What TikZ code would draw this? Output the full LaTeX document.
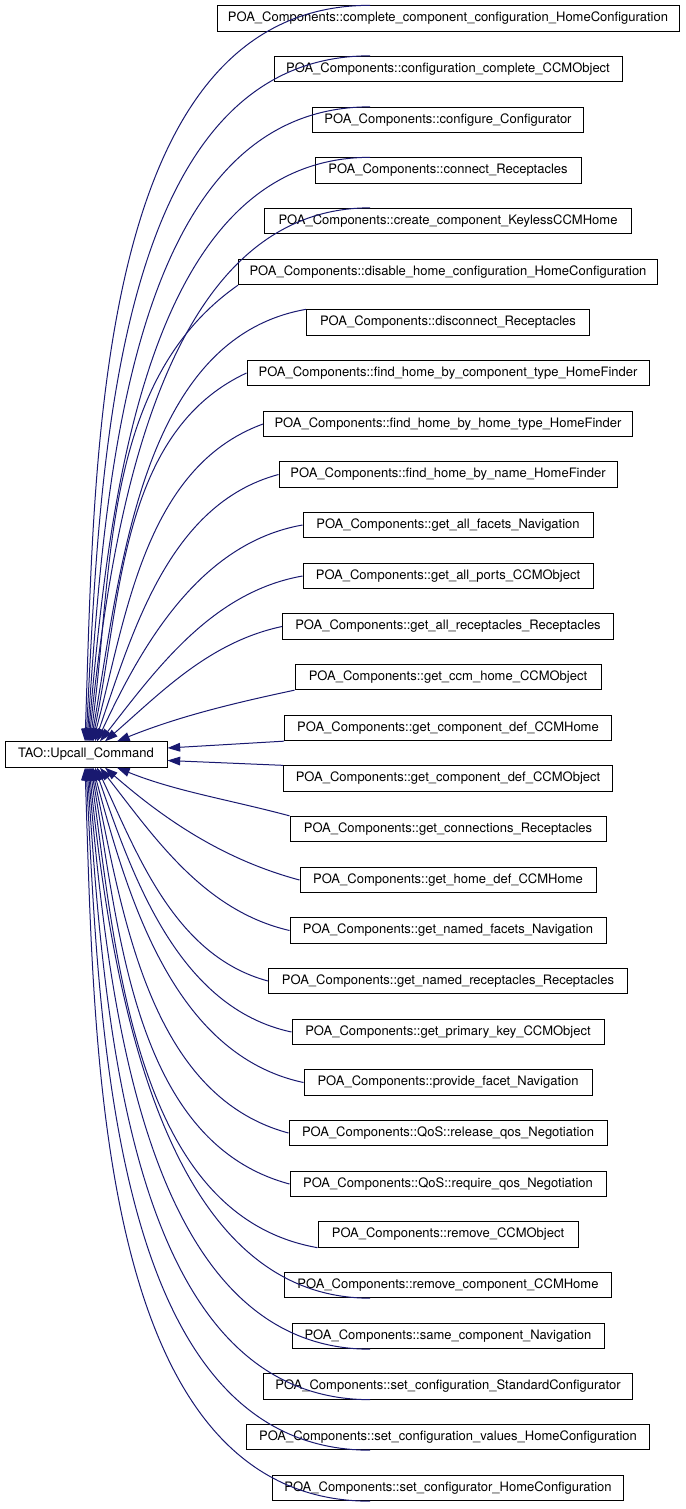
\documentclass[tikz,border=0pt]{standalone}
\usepackage{fontspec}
\setmainfont{TeX Gyre Heros}
\usetikzlibrary{arrows.meta}
\definecolor{edgeblue}{HTML}{191970}
\tikzset{
fn/.style={draw=black,line width=0.75pt,inner xsep=0pt,minimum height=19pt,font=\fontsize{9.75}{11}\selectfont},
call/.style={draw=edgeblue,line width=0.75pt,looseness=0.9,-{Triangle[length=9.5pt,width=6.5pt]}}
}
\newcommand{\callbox}[4]{
\node[fn,minimum width=#3*0.75pt] (#1) at (448,-#2) {#4};
}

\begin{document}
\begin{tikzpicture}[x=0.75pt,y=0.75pt]
\useasboundingbox (0,0) rectangle (685,-1509);
\node[fn,minimum width=162*0.75pt] (cmd) at (86,-754.5) {TAO::Upcall\_Command};
\coordinate (tx) at (370,0);
\callbox{n1}{18.5}{462}{POA\_Components::complete\_component\_configuration\_HomeConfiguration}
\callbox{n2}{69}{348}{POA\_Components::configuration\_complete\_CCMObject}
\callbox{n3}{120}{271}{POA\_Components::configure\_Configurator}
\callbox{n4}{170.5}{266}{POA\_Components::connect\_Receptacles}
\callbox{n5}{221}{367}{POA\_Components::create\_component\_KeylessCCMHome}
\callbox{n6}{272}{419}{POA\_Components::disable\_home\_configuration\_HomeConfiguration}
\callbox{n7}{322.5}{283}{POA\_Components::disconnect\_Receptacles}
\callbox{n8}{373}{402}{POA\_Components::find\_home\_by\_component\_type\_HomeFinder}
\callbox{n9}{424}{369}{POA\_Components::find\_home\_by\_home\_type\_HomeFinder}
\callbox{n10}{474.5}{338}{POA\_Components::find\_home\_by\_name\_HomeFinder}
\callbox{n11}{525}{290}{POA\_Components::get\_all\_facets\_Navigation}
\callbox{n12}{576}{290}{POA\_Components::get\_all\_ports\_CCMObject}
\callbox{n13}{626.5}{331}{POA\_Components::get\_all\_receptacles\_Receptacles}
\callbox{n14}{677}{306}{POA\_Components::get\_ccm\_home\_CCMObject}
\callbox{n15}{728}{327}{POA\_Components::get\_component\_def\_CCMHome}
\callbox{n16}{778.5}{329}{POA\_Components::get\_component\_def\_CCMObject}
\callbox{n17}{829}{316}{POA\_Components::get\_connections\_Receptacles}
\callbox{n18}{880}{296}{POA\_Components::get\_home\_def\_CCMHome}
\callbox{n19}{930.5}{316}{POA\_Components::get\_named\_facets\_Navigation}
\callbox{n20}{981}{359}{POA\_Components::get\_named\_receptacles\_Receptacles}
\callbox{n21}{1032}{312}{POA\_Components::get\_primary\_key\_CCMObject}
\callbox{n22}{1082.5}{288}{POA\_Components::provide\_facet\_Navigation}
\callbox{n23}{1133}{318}{POA\_Components::QoS::release\_qos\_Negotiation}
\callbox{n24}{1184}{316}{POA\_Components::QoS::require\_qos\_Negotiation}
\callbox{n25}{1234.5}{260}{POA\_Components::remove\_CCMObject}
\callbox{n26}{1285}{327}{POA\_Components::remove\_component\_CCMHome}
\callbox{n27}{1336}{312}{POA\_Components::same\_component\_Navigation}
\callbox{n28}{1386.5}{369}{POA\_Components::set\_configuration\_StandardConfigurator}
\callbox{n29}{1437}{403}{POA\_Components::set\_configuration\_values\_HomeConfiguration}
\callbox{n30}{1488}{351}{POA\_Components::set\_configurator\_HomeConfiguration}
\draw[call] (n1.north -| tx) to[out=180,in=88] (cmd.north -| 85,0);
\draw[call] (n2.north -| tx) to[out=180,in=87] (cmd.north -| 86,0);
\draw[call] (n3.north -| tx) to[out=180,in=86] (cmd.north -| 87,0);
\draw[call] (n4.north -| tx) to[out=180,in=85] (cmd.north -| 88,0);
\draw[call] (n5.north -| tx) to[out=180,in=84] (cmd.north -| 89,0);
\draw[call] (n6.south west) to[out=215,in=82] (cmd.north -| 90,0);
\draw[call] (n7.north west) to[out=190,in=80] (cmd.north -| 91,0);
\draw[call] (n8.west) to[out=205,in=78] (cmd.north -| 92,0);
\draw[call] (n9.west) to[out=200,in=75] (cmd.north -| 93,0);
\draw[call] (n10.west) to[out=195,in=71] (cmd.north -| 95,0);
\draw[call] (n11.west) to[out=190,in=65] (cmd.north -| 97,0);
\draw[call] (n12.west) to[out=190,in=52] (cmd.north -| 100,0);
\draw[call] (n13.west) to[out=192,in=41] (cmd.north -| 105,0);
\draw[call] (n14.south west) to[out=192,in=22] (cmd.north -| 117,0);
\draw[call] (n15.south west) -- (cmd.east |- 0,-748);
\draw[call] (n16.north west) -- (cmd.east |- 0,-760.5);
\draw[call] (n17.north west) to[out=165,in=-22] (cmd.south -| 117,0);
\draw[call] (n18.west) to[out=165,in=-41] (cmd.south -| 105,0);
\draw[call] (n19.west) to[out=167,in=-52] (cmd.south -| 100,0);
\draw[call] (n20.west) to[out=165,in=-65] (cmd.south -| 97,0);
\draw[call] (n21.west) to[out=168,in=-71] (cmd.south -| 95,0);
\draw[call] (n22.west) to[out=168,in=-75] (cmd.south -| 93,0);
\draw[call] (n23.west) to[out=165,in=-78] (cmd.south -| 92,0);
\draw[call] (n24.west) to[out=165,in=-80] (cmd.south -| 91,0);
\draw[call] (n25.south west) to[out=170,in=-82] (cmd.south -| 90,0);
\draw[call] (n26.south -| tx) to[out=180,in=-84] (cmd.south -| 89,0);
\draw[call] (n27.south -| tx) to[out=180,in=-85] (cmd.south -| 88,0);
\draw[call] (n28.south -| tx) to[out=180,in=-86] (cmd.south -| 87,0);
\draw[call] (n29.south -| tx) to[out=180,in=-87] (cmd.south -| 86,0);
\draw[call] (n30.south -| tx) to[out=180,in=-88] (cmd.south -| 85,0);
\end{tikzpicture}
\end{document}
